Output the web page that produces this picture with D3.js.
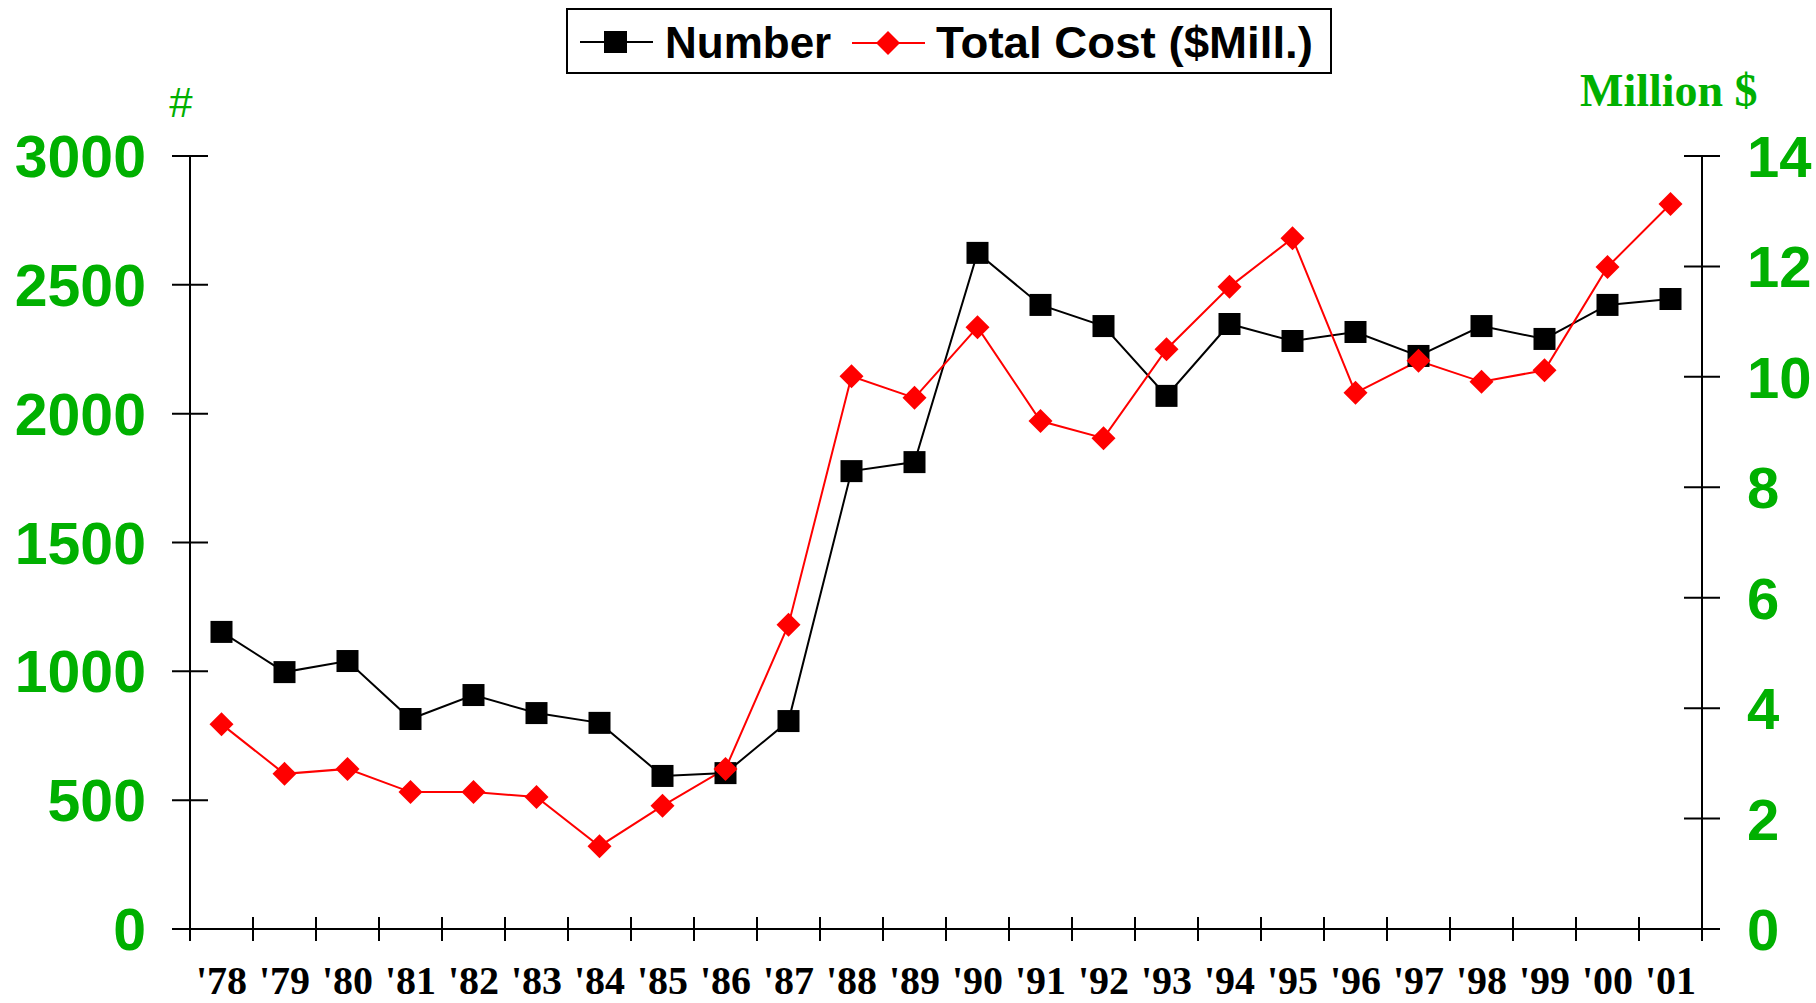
<!DOCTYPE html>
<html>
  <head>
    <title>Number and Total Cost</title>
    <script src="https://d3js.org/d3.v7.min.js"></script>
    <style>
      body { margin: 0; background: #fff; }
    </style>
  </head>
  <body>
    <svg width="1816" height="1003"></svg>
  </body>
</html>
<script>

const years = ["'78","'79","'80","'81","'82","'83","'84","'85","'86","'87","'88","'89",
               "'90","'91","'92","'93","'94","'95","'96","'97","'98","'99","'00","'01"];
const number = [1153, 997, 1040, 815, 908, 838, 800, 594, 605, 807, 1777, 1812,
                2624, 2422, 2340, 2069, 2348, 2282, 2317, 2224, 2340, 2290, 2422, 2445];
const cost = [3.71, 2.81, 2.90, 2.48, 2.48, 2.39, 1.50, 2.23, 2.90, 5.51, 10.01, 9.62,
              10.90, 9.20, 8.89, 10.50, 11.63, 12.51, 9.71, 10.29, 9.91, 10.12, 11.99, 13.13];
const leftTicks = [0, 500, 1000, 1500, 2000, 2500, 3000];
const rightTicks = [0, 2, 4, 6, 8, 10, 12, 14];

const green = '#00b000';
const sans = "'Liberation Sans', Arial, sans-serif";
const serif = "'Liberation Serif', 'Times New Roman', serif";

const svg = d3.select('svg');
const plotLeft = 190, plotRight = 1702, plotTop = 156, plotBottom = 929;

const x = d3.scaleBand().domain(years).range([plotLeft, plotRight]);
const yL = d3.scaleLinear().domain([0, 3000]).range([plotBottom, plotTop]);
const yR = d3.scaleLinear().domain([0, 14]).range([plotBottom, plotTop]);

// x axis
svg.append('line')
  .attr('x1', plotLeft - 18).attr('x2', plotRight + 18)
  .attr('y1', plotBottom).attr('y2', plotBottom)
  .style('stroke', 'black').style('stroke-width', 2);

svg.selectAll('line.xtick')
  .data(years.slice(1))
  .enter()
  .append('line')
  .classed('xtick', true)
  .attr('x1', d => x(d)).attr('x2', d => x(d))
  .attr('y1', plotBottom - 12).attr('y2', plotBottom + 12)
  .style('stroke', 'black').style('stroke-width', 2);

svg.selectAll('text.xlab')
  .data(years)
  .enter()
  .append('text')
  .classed('xlab', true)
  .attr('x', d => x(d) + x.bandwidth() / 2)
  .attr('y', 994)
  .attr('text-anchor', 'middle')
  .style('font-family', serif)
  .style('font-weight', 'bold')
  .style('font-size', '40px')
  .text(d => d);

// left axis
svg.append('line')
  .attr('x1', plotLeft).attr('x2', plotLeft)
  .attr('y1', plotTop).attr('y2', plotBottom + 12)
  .style('stroke', 'black').style('stroke-width', 2);

svg.selectAll('line.ltick')
  .data(leftTicks)
  .enter()
  .append('line')
  .classed('ltick', true)
  .attr('x1', plotLeft - 18).attr('x2', plotLeft + 18)
  .attr('y1', d => yL(d)).attr('y2', d => yL(d))
  .style('stroke', 'black').style('stroke-width', 2);

svg.selectAll('text.llab')
  .data(leftTicks)
  .enter()
  .append('text')
  .classed('llab', true)
  .attr('x', 146)
  .attr('y', d => yL(d) + 21)
  .attr('text-anchor', 'end')
  .style('font-family', sans)
  .style('font-weight', 'bold')
  .style('font-size', '59px')
  .style('fill', green)
  .text(d => d);

svg.append('text')
  .attr('x', 181).attr('y', 117)
  .attr('text-anchor', 'middle')
  .style('font-family', sans)
  .style('font-size', '42px')
  .style('fill', green)
  .text('#');

// right axis
svg.append('line')
  .attr('x1', plotRight).attr('x2', plotRight)
  .attr('y1', plotTop).attr('y2', plotBottom + 12)
  .style('stroke', 'black').style('stroke-width', 2);

svg.selectAll('line.rtick')
  .data(rightTicks)
  .enter()
  .append('line')
  .classed('rtick', true)
  .attr('x1', plotRight - 18).attr('x2', plotRight + 18)
  .attr('y1', d => yR(d)).attr('y2', d => yR(d))
  .style('stroke', 'black').style('stroke-width', 2);

svg.selectAll('text.rlab')
  .data(rightTicks)
  .enter()
  .append('text')
  .classed('rlab', true)
  .attr('x', 1747)
  .attr('y', d => yR(d) + 21)
  .attr('text-anchor', 'start')
  .style('font-family', sans)
  .style('font-weight', 'bold')
  .style('font-size', '58px')
  .style('fill', green)
  .text(d => d);

svg.append('text')
  .attr('x', 1580).attr('y', 106)
  .style('font-family', serif)
  .style('font-weight', 'bold')
  .style('font-size', '46px')
  .style('fill', green)
  .text('Million $');

// series
const cx = (d, i) => x(years[i]) + x.bandwidth() / 2;

const lineN = d3.line().x(cx).y(d => yL(d));
const lineC = d3.line().x(cx).y(d => yR(d));

svg.append('path')
  .datum(number)
  .attr('d', lineN)
  .style('fill', 'none').style('stroke', 'black').style('stroke-width', 2);

svg.append('path')
  .datum(cost)
  .attr('d', lineC)
  .style('fill', 'none').style('stroke', 'red').style('stroke-width', 2);

svg.selectAll('rect.num')
  .data(number)
  .enter()
  .append('rect')
  .classed('num', true)
  .attr('x', (d, i) => cx(d, i) - 11)
  .attr('y', d => yL(d) - 11)
  .attr('width', 22).attr('height', 22)
  .style('fill', 'black');

const diamond = 'M0,-12L12,0L0,12L-12,0Z';

svg.selectAll('path.cost')
  .data(cost)
  .enter()
  .append('path')
  .classed('cost', true)
  .attr('d', diamond)
  .attr('transform', (d, i) => `translate(${cx(d, i)},${yR(d)})`)
  .style('fill', 'red');

// legend
const lg = svg.append('g');
lg.append('rect')
  .attr('x', 567).attr('y', 9).attr('width', 764).attr('height', 64)
  .style('fill', 'white').style('stroke', 'black').style('stroke-width', 2);

lg.append('line')
  .attr('x1', 580).attr('x2', 653).attr('y1', 42).attr('y2', 42)
  .style('stroke', 'black').style('stroke-width', 2);
lg.append('rect')
  .attr('x', 604).attr('y', 31).attr('width', 23).attr('height', 22)
  .style('fill', 'black');
lg.append('text')
  .attr('x', 665).attr('y', 58)
  .style('font-family', sans).style('font-weight', 'bold').style('font-size', '44px')
  .text('Number');

lg.append('line')
  .attr('x1', 852).attr('x2', 925).attr('y1', 43).attr('y2', 43)
  .style('stroke', 'red').style('stroke-width', 2);
lg.append('path')
  .attr('d', diamond)
  .attr('transform', 'translate(888,43)')
  .style('fill', 'red');
lg.append('text')
  .attr('x', 936).attr('y', 58)
  .attr('textLength', 377)
  .attr('lengthAdjust', 'spacingAndGlyphs')
  .style('font-family', sans).style('font-weight', 'bold').style('font-size', '44px')
  .text('Total Cost ($Mill.)');

</script>
